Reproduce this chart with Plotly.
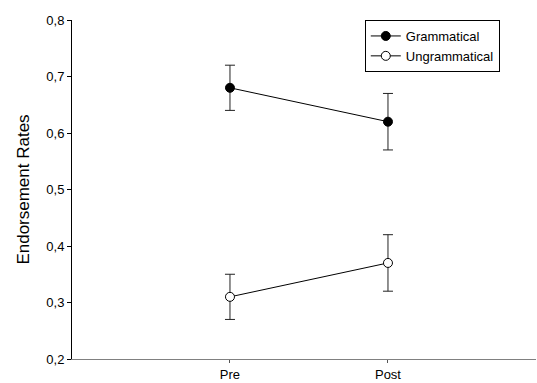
import plotly.graph_objects as go

categories = ["Pre", "Post"]
cat_pos = [1, 2]
gram_vals = [0.68, 0.62]
gram_err_plus = [0.04, 0.05]
gram_err_minus = [0.04, 0.05]
ungram_vals = [0.31, 0.37]
ungram_err_plus = [0.04, 0.05]
ungram_err_minus = [0.04, 0.05]
y_ticks = [0.2, 0.3, 0.4, 0.5, 0.6, 0.7, 0.8]

fig = go.Figure()
fig.add_trace(go.Scatter(
    x=cat_pos, y=gram_vals, mode="lines+markers", name="Grammatical",
    line=dict(color="black", width=1),
    marker=dict(symbol="circle", size=9, color="black", line=dict(color="black", width=1)),
    error_y=dict(type="data", symmetric=False, array=gram_err_plus, arrayminus=gram_err_minus,
                 color="#222222", thickness=1, width=5),
))
fig.add_trace(go.Scatter(
    x=cat_pos, y=ungram_vals, mode="lines+markers", name="Ungrammatical",
    line=dict(color="black", width=1),
    marker=dict(symbol="circle", size=9, color="white", line=dict(color="black", width=1)),
    error_y=dict(type="data", symmetric=False, array=ungram_err_plus, arrayminus=ungram_err_minus,
                 color="#222222", thickness=1, width=5),
))

fig.update_layout(
    width=537, height=383,
    margin=dict(l=72, r=1, t=20, b=24),
    paper_bgcolor="white", plot_bgcolor="white",
    separators=",.",
    font=dict(family="Liberation Sans, Arial, sans-serif", size=13, color="black"),
    showlegend=True,
    legend=dict(x=0.631, y=1.0, xanchor="left", yanchor="top",
                bordercolor="black", borderwidth=1, bgcolor="white",
                font=dict(size=13), itemwidth=30, tracegroupgap=0,
                entrywidth=150, entrywidthmode="pixels"),
    xaxis=dict(range=[0, 2.937], tickvals=cat_pos, ticktext=categories,
               showgrid=False, zeroline=False, showline=True, linecolor="#808080", linewidth=1,
               ticks="outside", ticklen=3, tickcolor="#555555", fixedrange=True),
    yaxis=dict(range=[0.2, 0.8], tickvals=y_ticks, tickformat=".1f",
               showgrid=False, zeroline=False, showline=True, linecolor="black", linewidth=1,
               ticks="outside", ticklen=4, tickcolor="black", fixedrange=True,
               title=dict(text="Endorsement Rates", font=dict(size=17), standoff=12)),
)

fig.write_html("out.html", config={"displayModeBar": False},
               post_script="document.body.style.margin='0';")
